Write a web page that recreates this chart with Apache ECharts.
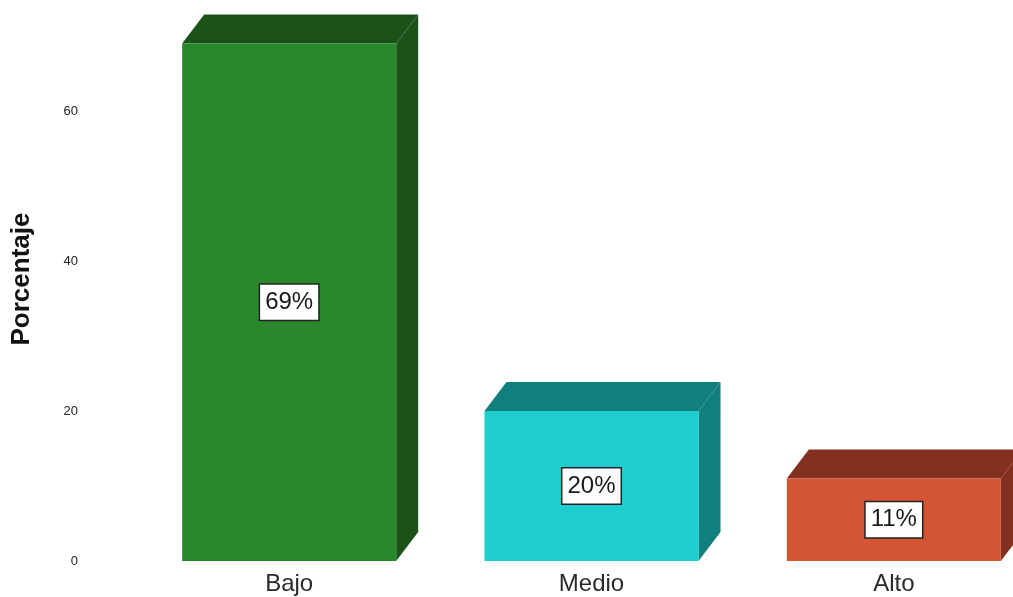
<!DOCTYPE html>
<html>
<head>
<meta charset="utf-8">
<title>Porcentaje por nivel</title>
<script src="https://cdn.jsdelivr.net/npm/echarts@6/dist/echarts.min.js"></script>
<style>
  html, body { margin: 0; padding: 0; background: #ffffff; }
  #chart { width: 1013px; height: 597px; }
</style>
</head>
<body>
<div id="chart"></div>
<script>
// Niveles y porcentajes
const categories = ['Bajo', 'Medio', 'Alto'];
const percentages = [69, 20, 11];
const yTicks = [0, 20, 40, 60];

// Colores: cara frontal y caras de profundidad (superior / lateral)
const frontColors = ['#2b872b', '#1ecdcd', '#d35533'];
const depthColors = ['#1b521a', '#127f7f', '#823120'];

const DEPTH_X = 22;
const DEPTH_Y = 29;

const chart = echarts.init(document.getElementById('chart'), null, { renderer: 'canvas' });

function renderBar3D(params, api) {
  const idx = params.dataIndex;
  const value = api.value(1);
  const base = api.coord([api.value(0), 0]);
  const top = api.coord([api.value(0), value]);
  const band = api.size([1, 0])[0];
  const w = band * 0.708;
  const x0 = base[0] - w / 2;
  const x1 = base[0] + w / 2;
  const yB = base[1];
  const yT = top[1];
  const mid = api.coord([api.value(0), value / 2]);
  return {
    type: 'group',
    children: [
      {
        type: 'polygon',
        shape: { points: [[x1, yT], [x1 + DEPTH_X, yT - DEPTH_Y], [x1 + DEPTH_X, yB - DEPTH_Y], [x1, yB]] },
        style: { fill: depthColors[idx] }
      },
      {
        type: 'polygon',
        shape: { points: [[x0, yT], [x0 + DEPTH_X, yT - DEPTH_Y], [x1 + DEPTH_X, yT - DEPTH_Y], [x1, yT]] },
        style: { fill: depthColors[idx] }
      },
      {
        type: 'rect',
        shape: { x: x0, y: yT, width: w, height: yB - yT },
        style: { fill: frontColors[idx] }
      },
      {
        type: 'text',
        x: base[0],
        y: mid[1],
        style: {
          text: value + '%',
          fontFamily: 'Liberation Sans, Arial, sans-serif',
          fontSize: 24,
          fill: '#1a1a1a',
          align: 'center',
          verticalAlign: 'middle',
          backgroundColor: '#ffffff',
          borderColor: '#222222',
          borderWidth: 1.5,
          padding: [6, 5, 5, 5]
        }
      }
    ]
  };
}

chart.setOption({
  animation: false,
  backgroundColor: '#ffffff',
  grid: { left: 138, top: 36, bottom: 36, width: 907, outerBoundsMode: 'none', containLabel: false },
  xAxis: {
    type: 'category',
    data: categories,
    axisLine: { show: false },
    axisTick: { show: false },
    axisLabel: {
      margin: 11,
      fontFamily: 'Liberation Sans, Arial, sans-serif',
      fontSize: 24,
      color: '#2a2a2a'
    }
  },
  yAxis: {
    type: 'value',
    min: yTicks[0],
    max: 70,
    interval: 20,
    splitLine: { show: false },
    axisLine: { show: false },
    axisTick: { show: false },
    axisLabel: {
      showMaxLabel: false,
      margin: 60,
      fontFamily: 'Liberation Sans, Arial, sans-serif',
      fontSize: 13,
      color: '#222222'
    }
  },
  graphic: [
    {
      type: 'text',
      x: 22,
      y: 279,
      rotation: Math.PI / 2,
      style: {
        text: 'Porcentaje',
        fontFamily: 'Liberation Sans, Arial, sans-serif',
        fontWeight: 'bold',
        fontSize: 26,
        fill: '#111111',
        align: 'center',
        verticalAlign: 'middle'
      }
    }
  ],
  series: [
    {
      type: 'custom',
      renderItem: renderBar3D,
      clip: false,
      data: categories.map((c, i) => [i, percentages[i]])
    }
  ]
});
</script>
</body>
</html>
